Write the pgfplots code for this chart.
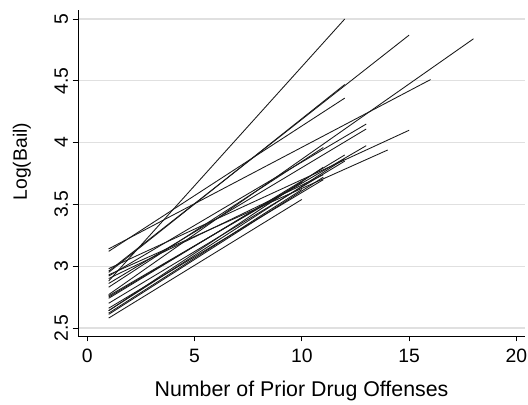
\documentclass[border=0pt]{standalone}
\usepackage{pgfplots}
\pgfplotsset{compat=1.18}
\usepackage{fontspec}
\setmainfont{Liberation Sans}
\begin{document}
\begin{tikzpicture}
\path[use as bounding box] (-58.5pt,-51pt) rectangle (337.5pt,252pt);
\begin{axis}[
  scale only axis, width=335.25pt, height=244.5pt,
  xmin=-0.43, xmax=20.4, ymin=2.435, ymax=5.073,
  axis x line*=bottom, axis y line*=left,
  axis line style={black, line width=0.7pt},
  xtick={0,5,10,15,20}, ytick={2.5,3,3.5,4,4.5,5},
  tick align=outside, major tick length=4pt,
  tick style={black, line width=0.6pt},
  ymajorgrids, grid style={black!12, line width=0.9pt},
  /pgf/number format/assume math mode=true,
  tick label style={font=\fontsize{14.5}{16}\selectfont},
  xticklabel style={yshift=-2pt},
  yticklabel style={rotate=90, anchor=south},
  every axis x label/.style={at={(axis description cs:0.5,0)}, anchor=center, yshift=-41pt, font=\fontsize{16}{18}\selectfont},
  every axis y label/.style={at={([xshift=-42pt]axis description cs:0,0.535)}, rotate=90, anchor=center, font=\fontsize{14.5}{16}\selectfont},
  xlabel={Number of Prior Drug Offenses}, ylabel={Log(Bail)},
  ln/.style={black!90, line width=0.65pt, no marks},
]
\addplot[ln] coordinates {(1,2.88) (12,5.00)};
\addplot[ln] coordinates {(1,2.96) (15,4.87)};
\addplot[ln] coordinates {(1,2.77) (18,4.84)};
\addplot[ln] coordinates {(1,3.14) (16,4.51)};
\addplot[ln] coordinates {(1,2.95) (12,4.47)};
\addplot[ln] coordinates {(1,3.12) (12,4.36)};
\addplot[ln] coordinates {(1,2.98) (15,4.10)};
\addplot[ln] coordinates {(1,2.92) (13,4.15)};
\addplot[ln] coordinates {(1,2.86) (13,4.11)};
\addplot[ln] coordinates {(1,2.83) (11,3.96)};
\addplot[ln] coordinates {(1,2.93) (14,3.94)};
\addplot[ln] coordinates {(1,2.76) (13,3.975)};
\addplot[ln] coordinates {(1,2.74) (12,3.90)};
\addplot[ln] coordinates {(1,2.70) (12,3.85)};
\addplot[ln] coordinates {(1,2.66) (11,3.70)};
\addplot[ln] coordinates {(1,2.64) (11,3.80)};
\addplot[ln] coordinates {(1,2.62) (10,3.62)};
\addplot[ln] coordinates {(1,2.58) (10,3.54)};
\addplot[ln] coordinates {(1,2.90) (11,3.74)};
\addplot[ln] coordinates {(1,2.64) (12,3.87)};
\addplot[ln] coordinates {(1,2.75) (10,3.68)};
\addplot[ln] coordinates {(1,2.61) (11,3.72)};
\end{axis}
\end{tikzpicture}
\end{document}
